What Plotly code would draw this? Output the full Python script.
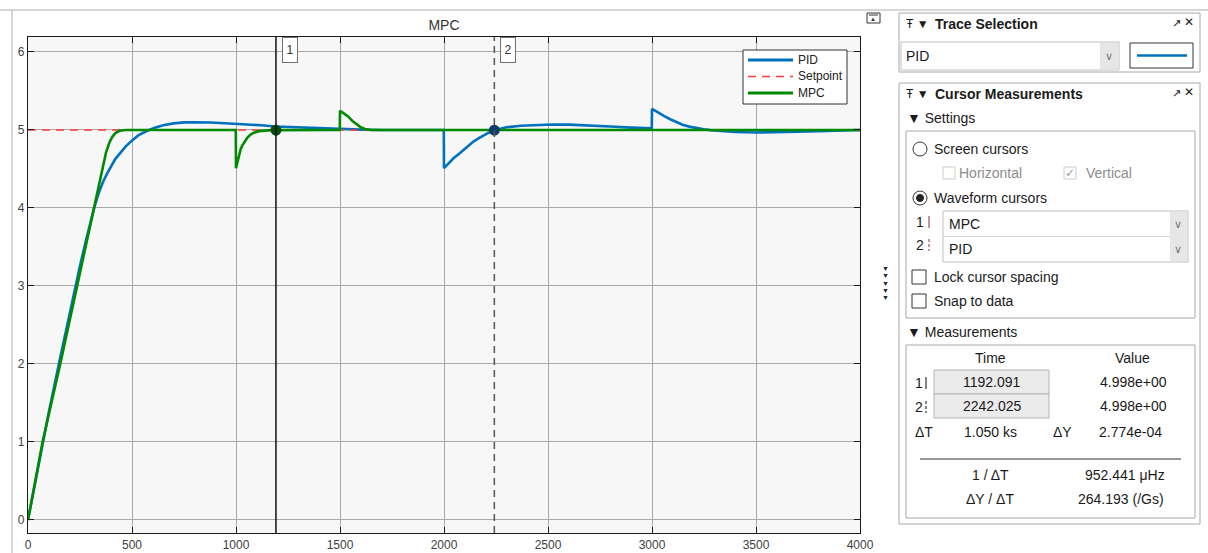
import plotly.graph_objects as go

# ---- signals -------------------------------------------------------------
pid_t = [0, 50, 100, 150, 200, 250, 280, 300, 320, 340, 360, 380, 400, 420, 445,
         470, 498, 530, 573, 610, 650, 700, 750, 800, 880, 960, 1040, 1120, 1192,
         1280, 1380, 1500, 1600, 1700, 1800, 1900, 1999,
         2000, 2015, 2030, 2047, 2070, 2095, 2120, 2143, 2170, 2191, 2215, 2242,
         2270, 2300, 2370, 2450, 2520, 2600, 2700, 2800, 2900, 2999,
         3000, 3020, 3040, 3057, 3090, 3121, 3150, 3185, 3220, 3249, 3280, 3313,
         3400, 3500, 3600, 3700, 3800, 3900, 4000]
pid_y = [0, 0.70, 1.38, 2.02, 2.66, 3.26, 3.60, 3.82, 4.02, 4.19, 4.33, 4.44, 4.54,
         4.63, 4.71, 4.79, 4.86, 4.93, 4.99, 5.03, 5.06, 5.085, 5.097, 5.10, 5.095,
         5.085, 5.075, 5.06, 5.045, 5.035, 5.025, 5.015, 5.005, 5.0, 5.0, 5.0, 5.0,
         4.51, 4.55, 4.60, 4.64, 4.69, 4.75, 4.80, 4.855, 4.90, 4.935, 4.965, 4.998,
         5.02, 5.035, 5.055, 5.065, 5.07, 5.068, 5.06, 5.045, 5.03, 5.02,
         5.27, 5.235, 5.20, 5.18, 5.135, 5.095, 5.065, 5.04, 5.02, 5.01, 4.998, 4.99,
         4.975, 4.968, 4.97, 4.977, 4.985, 4.993, 5.0]

mpc_t = [0, 70, 155, 235, 315, 345, 360, 375, 390, 405, 420, 440, 470, 999,
         1000, 1005, 1012, 1022, 1030, 1038, 1054, 1070, 1086, 1110, 1134, 1170,
         1499, 1500, 1520, 1540, 1560, 1580, 1600, 1620, 1650, 4000]
mpc_y = [0, 1.0, 2.0, 3.0, 4.0, 4.38, 4.56, 4.71, 4.83, 4.91, 4.96, 4.99, 5.0, 5.0,
         4.51, 4.57, 4.65, 4.75, 4.80, 4.84, 4.90, 4.94, 4.965, 4.985, 4.993, 4.998,
         5.0, 5.245, 5.21, 5.17, 5.115, 5.07, 5.035, 5.012, 5.0, 5.0]

setpoint_t = [0, 4000]
setpoint_y = [5, 5]

cursor_times = [1192.091, 2242.025]
cursor_values = [4.998, 4.998]

x_ticks = [0, 500, 1000, 1500, 2000, 2500, 3000, 3500, 4000]
y_ticks = [0, 1, 2, 3, 4, 5, 6]

series_names = ["PID", "Setpoint", "MPC"]
series_colors = ["#0072BD", "#ff3b3b", "#008a00"]

# ---- page geometry (pixels) ---------------------------------------------
W, H = 1208, 553
L, R, T, B = 28, 348, 37, 20
PW, PH = W - L - R, H - T - B


def fx(px):
    return (px - L) / PW


def fy(py):
    return (H - B - py) / PH


FONT = "Liberation Sans, Arial, DejaVu Sans"
TXT = "#1a1a1a"

fig = go.Figure()
fig.add_trace(go.Scatter(x=pid_t, y=pid_y, mode="lines", name=series_names[0],
                         line=dict(color=series_colors[0], width=2.6)))
fig.add_trace(go.Scatter(x=setpoint_t, y=setpoint_y, mode="lines", name=series_names[1],
                         line=dict(color=series_colors[1], width=1.6, dash="8px,6px")))
fig.add_trace(go.Scatter(x=mpc_t, y=mpc_y, mode="lines", name=series_names[2],
                         line=dict(color=series_colors[2], width=2.6)))
fig.add_trace(go.Scatter(x=cursor_times[:1], y=cursor_values[:1], mode="markers",
                         marker=dict(color="#0b4a12", size=11)))
fig.add_trace(go.Scatter(x=cursor_times[1:], y=cursor_values[1:], mode="markers",
                         marker=dict(color="#0d3d68", size=11)))

shapes = []
ann = []

# cursor lines and their numbered tags
shapes.append(dict(type="line", xref="x", yref="paper", x0=cursor_times[0],
                   x1=cursor_times[0], y0=0, y1=1, line=dict(color="#111111", width=1.5)))
shapes.append(dict(type="line", xref="x", yref="paper", x0=cursor_times[1],
                   x1=cursor_times[1], y0=0, y1=1,
                   line=dict(color="#555555", width=1.5, dash="7px,5px")))
for i, t in enumerate(cursor_times):
    ann.append(dict(xref="x", yref="paper", x=t, y=1, xshift=14, yanchor="top",
                    text=str(i + 1), showarrow=False, bgcolor="white",
                    bordercolor="#707070", borderwidth=1, borderpad=0, width=14,
                    height=24, font=dict(family=FONT, size=12, color="#333333")))


def rect(x0, y0, x1, y1, line="#a8a8a8", fill=None, width=1):
    shapes.append(dict(type="rect", xref="paper", yref="paper", x0=fx(x0), x1=fx(x1),
                       y0=fy(y1), y1=fy(y0), line=dict(color=line, width=width),
                       fillcolor=fill if fill else "rgba(0,0,0,0)", layer="above"))


def hline(x0, x1, y, color="#c8c8c8", width=1, dash="solid"):
    shapes.append(dict(type="line", xref="paper", yref="paper", x0=fx(x0), x1=fx(x1),
                       y0=fy(y), y1=fy(y), line=dict(color=color, width=width, dash=dash)))


def vline(x, y0, y1, color="#c8c8c8", width=1, dash="solid"):
    shapes.append(dict(type="line", xref="paper", yref="paper", x0=fx(x), x1=fx(x),
                       y0=fy(y0), y1=fy(y1), line=dict(color=color, width=width, dash=dash)))


def text(x, y, s, size=14, color=TXT, anchor="left", bold=False):
    ann.append(dict(xref="paper", yref="paper", x=fx(x), y=fy(y), text=s,
                    showarrow=False, xanchor=anchor, yanchor="middle",
                    font=dict(family=FONT, size=size, color=color,
                              weight="bold" if bold else "normal")))


def circle(cx, cy, r, line="#333333", fill="white"):
    shapes.append(dict(type="circle", xref="paper", yref="paper",
                       x0=fx(cx - r), x1=fx(cx + r), y0=fy(cy + r), y1=fy(cy - r),
                       line=dict(color=line, width=1), fillcolor=fill, layer="above"))


# legend box
rect(743, 50, 847, 104, line="#333333", fill="white")
for k, (nm, col) in enumerate(zip(series_names, series_colors)):
    yy = 60 + 16.5 * k
    if nm == "Setpoint":
        hline(748, 793, yy, color=col, width=1.6, dash="8px,6px")
    else:
        hline(748, 793, yy, color=col, width=2.8)
    text(796, yy, nm, size=12, color="#222222")

# window frame
hline(0, W, 10, color="#c8c8c8", width=1.5)
vline(12, 10, H, color="#c8c8c8", width=1.5)

# small icon above the plot's top-right corner
rect(867, 13, 880, 23, line="#333333")
hline(869, 878, 15, color="#333333")
text(873.5, 19.5, "▲", size=6, color="#333333", anchor="center")

# collapsed side-bar arrows
for k in range(5):
    text(885, 268 + 7.5 * k, "▼", size=7, color="#222222", anchor="center")

# Trace Selection panel
rect(899, 13, 1200, 72)
text(904, 24, "Ŧ ▼", size=12, color=TXT)
text(933, 24, "Trace Selection", size=14, bold=True)
text(1176, 23, "↗", size=11, color=TXT, anchor="center")
text(1189, 22, "✕", size=12, color=TXT, anchor="center")
rect(901, 42, 1119, 70, line="#c0c0c0", fill="white")
rect(1100, 43, 1118, 69, line="rgba(0,0,0,0)", fill="#e6e6e6")
text(904, 56, "PID", size=14)
text(1109, 56, "∨", size=11, color="#777777", anchor="center")
rect(1130, 43, 1193, 68, line="#333333", fill="white")
hline(1137, 1187, 55.5, color=series_colors[0], width=2.5)

# Cursor Measurements panel
rect(899, 83, 1200, 524)
text(904, 94, "Ŧ ▼", size=12, color=TXT)
text(933, 94, "Cursor Measurements", size=14, bold=True)
text(1176, 93, "↗", size=11, color=TXT, anchor="center")
text(1189, 92, "✕", size=12, color=TXT, anchor="center")
text(905, 118, "▼ Settings", size=14)
rect(906, 131, 1195, 318)

circle(920, 149, 7)
text(932, 149, "Screen cursors", size=14)
rect(943, 167, 955, 179, line="#cccccc", fill="white")
text(957, 173, "Horizontal", size=14, color="#8c8c8c")
rect(1064, 167, 1076, 179, line="#cccccc", fill="white")
text(1070, 173, "✓", size=12, color="#9a9a9a", anchor="center")
text(1084, 173, "Vertical", size=14, color="#8c8c8c")

circle(920, 198, 7)
circle(920, 198, 3.5, line="#222222", fill="#222222")
text(932, 198, "Waveform cursors", size=14)

text(914, 222, "1", size=14)
vline(929, 216, 228, color="#a05060", width=1.2)
text(914, 245, "2", size=14)
vline(929, 239, 251, color="#a05060", width=1.2, dash="3px,2px")
rect(943, 211, 1188, 262, line="#c0c0c0", fill="white")
hline(943, 1188, 236.5, color="#d8d8d8")
rect(1170, 212, 1187, 261, line="rgba(0,0,0,0)", fill="#e6e6e6")
text(947, 224, "MPC", size=14)
text(947, 249, "PID", size=14)
text(1178, 224, "∨", size=11, color="#777777", anchor="center")
text(1178, 249, "∨", size=11, color="#777777", anchor="center")

rect(912, 270, 926, 284, line="#333333", fill="white")
text(932, 277, "Lock cursor spacing", size=14)
rect(912, 294, 926, 308, line="#333333", fill="white")
text(932, 301, "Snap to data", size=14)

text(905, 332, "▼ Measurements", size=14)
rect(906, 345, 1195, 518)
text(990, 358, "Time", size=14, anchor="center")
text(1132, 358, "Value", size=14, anchor="center")

text(913, 383, "1", size=14)
vline(926, 377, 389, color="#333333", width=1.2)
text(913, 407, "2", size=14)
vline(926, 401, 413, color="#333333", width=1.2, dash="3px,2px")
rect(934, 370, 1049, 394, line="#b4b4b4", fill="#ebebeb")
rect(934, 394, 1049, 418, line="#b4b4b4", fill="#ebebeb")
text(992, 382, f"{cursor_times[0]:.3f}", size=14, anchor="center")
text(992, 406, f"{cursor_times[1]:.3f}", size=14, anchor="center")
text(1133, 382, f"{cursor_values[0]:.3e}", size=14, anchor="center")
text(1133, 406, f"{cursor_values[1]:.3e}", size=14, anchor="center")

text(913, 432, "ΔT", size=14)
text(990, 432, "1.050 ks", size=14, anchor="center")
text(1051, 432, "ΔY", size=14)
text(1130, 432, "2.774e-04", size=14, anchor="center")
hline(920, 1181, 459, color="#333333", width=1.2)
text(990, 475, "1 / ΔT", size=14, anchor="center")
text(1125, 475, "952.441 μHz", size=14, anchor="center")
text(990, 499, "ΔY / ΔT", size=14, anchor="center")
text(1121, 499, "264.193 (/Gs)", size=14, anchor="center")

axis_common = dict(showgrid=True, gridcolor="#a8a8a8", gridwidth=1, zeroline=False,
                   showline=True, linecolor="#1a1a1a", linewidth=1.2, mirror="allticks",
                   ticks="inside", ticklen=6, tickcolor="#1a1a1a", automargin=False,
                   tickfont=dict(family=FONT, size=12, color="#404040"))

fig.update_layout(
    width=W, height=H,
    margin=dict(l=L, r=R, t=T, b=B, autoexpand=False),
    paper_bgcolor="white",
    plot_bgcolor="#f7f7f7",
    title=dict(text="MPC", xref="paper", x=fx(444), xanchor="center",
               yref="container", y=1 - 25 / H, yanchor="middle",
               font=dict(family=FONT, size=14, color="#333333")),
    xaxis=dict(range=[0, 4000], tickvals=x_ticks, **axis_common),
    yaxis=dict(range=[-0.167, 6.192], tickvals=y_ticks, **axis_common),
    shapes=shapes,
    annotations=ann,
    showlegend=False,
)

fig.write_html("out.html", config={"displayModeBar": False})
